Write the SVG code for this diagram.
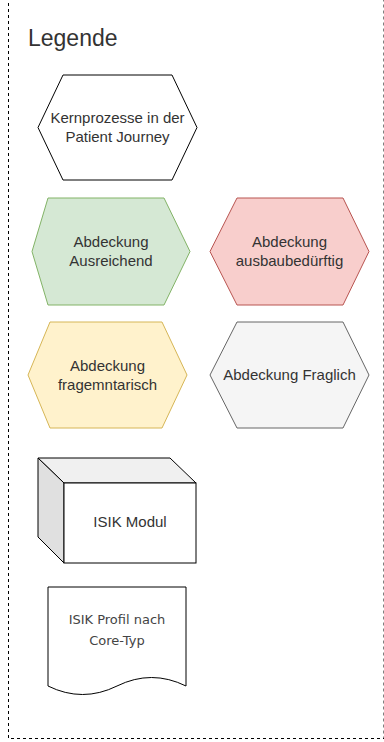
<svg xmlns="http://www.w3.org/2000/svg" width="384" height="742" viewBox="0 0 384 742">
<style>
.t{font-family:"Liberation Sans",Arial,sans-serif;font-size:15px;fill:#333333;text-anchor:middle}
.h{font-family:"DejaVu Sans","Liberation Sans",sans-serif;font-size:13px;fill:#444444;text-anchor:middle}
</style>
<rect width="384" height="742" fill="#ffffff"/>
<g id="container">
<rect x="8.5" y="-10" width="375.5" height="748.5" fill="none" stroke="#000000" stroke-dasharray="3 3"/>
<text x="28" y="46" font-family="'Liberation Sans',sans-serif" font-size="23" fill="#333333">Legende</text>
</g>
<g id="kernprozesse">
<polygon points="63,75 172,75 197,127.5 172,180 63,180 38,127.5" fill="#ffffff" stroke="#000000"/>
<text class="t" x="117.5" y="123">Kernprozesse in der</text>
<text class="t" x="117.5" y="142">Patient Journey</text>
</g>
<g id="ausreichend">
<polygon points="48,198 164,198 190,251.5 164,305 48,305 32,251.5" fill="#d5e8d4" stroke="#82b366"/>
<text class="t" x="111" y="247">Abdeckung</text>
<text class="t" x="111" y="266">Ausreichend</text>
</g>
<g id="ausbaubeduerftig">
<polygon points="237,198 343,198 369,251.5 343,305 237,305 210,251.5" fill="#f8cecc" stroke="#b85450"/>
<text class="t" x="289.5" y="247">Abdeckung</text>
<text class="t" x="289.5" y="266">ausbaubedürftig</text>
</g>
<g id="fragmentarisch">
<polygon points="50,322 162,322 187,375 162,428 50,428 28,375" fill="#fff2cc" stroke="#d6b656"/>
<text class="t" x="107.5" y="371">Abdeckung</text>
<text class="t" x="107.5" y="390">fragemntarisch</text>
</g>
<g id="fraglich">
<polygon points="237,322 343,322 369,375 343,428 237,428 210,375" fill="#f5f5f5" stroke="#666666"/>
<text class="t" x="289.5" y="380">Abdeckung Fraglich</text>
</g>
<g id="isik-modul">
<polygon points="38,458 170,458 196,483 64,483" fill="#f0f0f0" stroke="#000000"/>
<polygon points="38,458 64,483 64,563 38,537" fill="#e0e0e0" stroke="#000000"/>
<rect x="64" y="483" width="132" height="80" fill="#ffffff" stroke="#000000"/>
<text class="t" x="130" y="527">ISIK Modul</text>
</g>
<g id="isik-profil">
<path d="M48,587 H186 V686 Q151.5,669 117,686 T48,686 Z" fill="#ffffff" stroke="#000000"/>
<text class="h" x="117" y="624">ISIK Profil nach</text>
<text class="h" x="117" y="645">Core-Typ</text>
</g>
<g id="connectors"/>
</svg>
